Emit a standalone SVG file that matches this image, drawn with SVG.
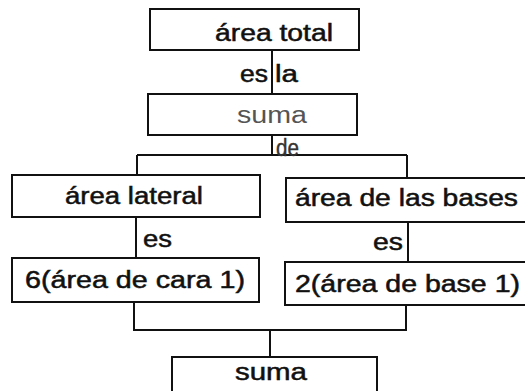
<svg xmlns="http://www.w3.org/2000/svg" width="525" height="391" viewBox="0 0 525 391">
<style>
.box{fill:#fff;stroke:#111;stroke-width:2}
.ln{fill:none;stroke:#111;stroke-width:2}
text{font-family:"Liberation Sans",Arial,sans-serif;font-size:23px;fill:#111;stroke:#111;stroke-width:0.5}
.g{fill:#555;stroke:none}
.d{fill:#333;stroke:#333;stroke-width:0.4}
</style>
<rect width="525" height="391" fill="#fff"/>
<g id="connectors">
<path class="ln" d="M272,50 V94"/>
<path class="ln" d="M272,135 V155 M137,155 H407 M137,155 V175 M407,155 V178"/>
<path class="ln" d="M136,217 V258"/>
<path class="ln" d="M408,222 V262"/>
<path class="ln" d="M134,302 V330 H406 V305 M270,330 V357"/>
<text x="268" y="82" text-anchor="end" textLength="28" lengthAdjust="spacingAndGlyphs">es</text>
<text x="275" y="82" textLength="23" lengthAdjust="spacingAndGlyphs">la</text>
<text x="276" y="156" class="d" textLength="23" lengthAdjust="spacingAndGlyphs">de</text>
<text x="143" y="247" textLength="29" lengthAdjust="spacingAndGlyphs">es</text>
<text x="403" y="250" text-anchor="end" textLength="30" lengthAdjust="spacingAndGlyphs">es</text>
</g>
<g id="area-total">
<rect class="box" x="150" y="9" width="209" height="41"/>
<text x="215" y="41" textLength="118" lengthAdjust="spacingAndGlyphs">área total</text>
</g>
<g id="suma-1">
<rect class="box" x="148" y="94" width="209" height="41"/>
<text x="237" y="123" class="g" textLength="70" lengthAdjust="spacingAndGlyphs">suma</text>
</g>
<g id="area-lateral">
<rect class="box" x="12" y="175" width="248" height="42"/>
<text x="65" y="204" textLength="138" lengthAdjust="spacingAndGlyphs">área lateral</text>
</g>
<g id="area-bases">
<rect class="box" x="286" y="178" width="245" height="44"/>
<text x="295" y="206" textLength="223" lengthAdjust="spacingAndGlyphs">área de las bases</text>
</g>
<g id="area-cara">
<rect class="box" x="12" y="258" width="247" height="44"/>
<text x="25" y="288" textLength="220" lengthAdjust="spacingAndGlyphs">6(área de cara 1)</text>
</g>
<g id="area-base">
<rect class="box" x="285" y="262" width="246" height="43"/>
<text x="295" y="292" textLength="225" lengthAdjust="spacingAndGlyphs">2(área de base 1)</text>
</g>
<g id="suma-2">
<rect class="box" x="172" y="357" width="205" height="40"/>
<text x="235" y="380" textLength="72" lengthAdjust="spacingAndGlyphs">suma</text>
</g>
</svg>
